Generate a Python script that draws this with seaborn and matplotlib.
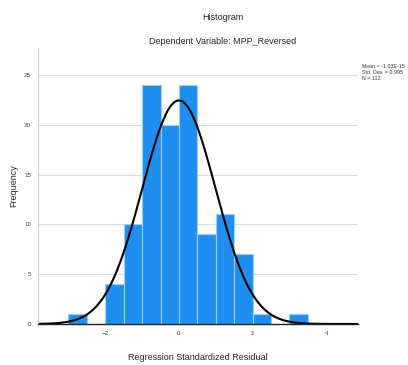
import numpy as np
import matplotlib
matplotlib.use("Agg")
import matplotlib.pyplot as plt
import seaborn as sns

bin_edges = [-3.0, -2.5, -2.0, -1.5, -1.0, -0.5, 0.0, 0.5, 1.0, 1.5, 2.0, 2.5, 3.0, 3.5]
counts = [1, 0, 4, 10, 24, 20, 24, 9, 11, 7, 1, 0, 1]
mean_val = 0.0
std_val = 0.995
n_obs = 112
stats_lines = ["Mean = -1.03E-15", "Std. Dev. = 0.995", "N = 112"]
x_ticks = [-2, 0, 2, 4]
y_ticks = [0, 5, 10, 15, 20, 25]

sns.set_theme(style="white")
plt.rcParams['font.family'] = ['Liberation Sans', 'DejaVu Sans']

fig = plt.figure(figsize=(4.08, 3.65), dpi=100)
ax = fig.add_axes([0.093, 0.1123, 0.784, 0.7557])

centers = [(bin_edges[i] + bin_edges[i + 1]) / 2 for i in range(len(counts))]
sns.histplot(x=centers, weights=counts, bins=bin_edges, ax=ax,
             color="#1e8ff0", alpha=1.0, edgecolor="#9fd0f8", linewidth=0.8)

bw = bin_edges[1] - bin_edges[0]
xs = np.linspace(-3.83, 4.86, 400)
ys = n_obs * bw * np.exp(-0.5 * ((xs - mean_val) / std_val) ** 2) / (std_val * np.sqrt(2 * np.pi))
sns.lineplot(x=xs, y=ys, ax=ax, color="black", linewidth=1.5)

ax.set_xlim(-3.83, 4.86)
ax.set_ylim(0, 27.7)
ax.set_xticks(x_ticks)
ax.set_yticks(y_ticks)
ax.tick_params(labelsize=4.5, colors="#444444", length=0, pad=5)
ax.yaxis.grid(True, color="#dddddd", linewidth=0.8)
ax.set_axisbelow(True)
for s in ["top", "right"]:
    ax.spines[s].set_visible(False)
ax.spines["left"].set_color("#cccccc")
ax.spines["left"].set_linewidth(0.8)
ax.spines["bottom"].set_color("#222222")
ax.spines["bottom"].set_linewidth(1.0)

ax.set_xlabel("Regression Standardized Residual", fontsize=6.5, labelpad=12)
ax.set_ylabel("Frequency", fontsize=6.5, labelpad=4)

fig.text(0.5 + 0.093 / 2, 1 - 17 / 365, "Histogram", ha="center", va="center", fontsize=6.5)
fig.text(0.5 + 0.093 / 2, 1 - 41 / 365, "Dependent Variable: MPP_Reversed", ha="center", va="center", fontsize=6.5)

for i, line in enumerate(stats_lines):
    fig.text(362 / 408, 1 - (66 + i * 6) / 365, line, ha="left", va="center", fontsize=3.8, color="#333333")

fig.savefig("out.png", dpi=100)
